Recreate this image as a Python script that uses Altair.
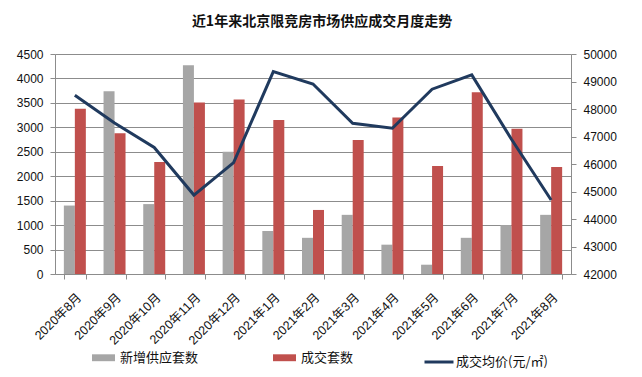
import altair as alt
import pandas as pd

months = ["2020年8月", "2020年9月", "2020年10月", "2020年11月", "2020年12月",
          "2021年1月", "2021年2月", "2021年3月", "2021年4月", "2021年5月",
          "2021年6月", "2021年7月", "2021年8月"]
supply = [1400, 3740, 1430, 4270, 2500, 880, 740, 1210, 600, 190, 740, 1000, 1210]
deals = [3380, 2880, 2290, 3510, 3570, 3150, 1310, 2740, 3200, 2210, 3720, 2970, 2190]
price = [48500, 47490, 46600, 44870, 46050, 49360, 48910, 47480, 47300, 48720, 49240, 46900, 44690]

s1, s2, s3 = "新增供应套数", "成交套数", "成交均价(元/㎡)"
bar_colors = ["#A6A6A6", "#C0504D"]
line_color = "#203A5E"

bar_df = pd.DataFrame(
    [{"month": m, "series": s1, "value": v} for m, v in zip(months, supply)]
    + [{"month": m, "series": s2, "value": v} for m, v in zip(months, deals)]
)
line_df = pd.DataFrame({"month": months, "series": s3, "price": price})

FONT = "Liberation Sans, Noto Sans CJK SC"
CJK = "Noto Sans CJK SC"
GRID = "#8C8C8C"

x_enc = alt.X(
    "month:N", sort=months, title=None,
    scale=alt.Scale(paddingInner=0.446, paddingOuter=0.223),
    axis=alt.Axis(labelAngle=-45, labelAlign="right", labelBaseline="middle",
                  labelFontSize=12.5, labelFont=FONT, labelColor="#111",
                  labelPadding=16, labelOffset=4, tickBand="extent", tickSize=5,
                  tickColor=GRID, domainColor=GRID, grid=False),
)

bars = alt.Chart(bar_df).mark_bar().encode(
    x=x_enc,
    xOffset=alt.XOffset("series:N", sort=[s1, s2],
                        scale=alt.Scale(paddingInner=0, paddingOuter=0)),
    y=alt.Y("value:Q", title=None,
            scale=alt.Scale(domain=[0, 4500], nice=False),
            axis=alt.Axis(values=list(range(0, 4501, 500)), grid=True, gridColor=GRID,
                          gridOpacity=1, tickSize=5, tickColor=GRID, domainColor=GRID,
                          labelFontSize=12, labelFont=FONT, labelColor="#111",
                          labelPadding=7, format="d")),
    color=alt.Color(
        "series:N",
        scale=alt.Scale(domain=[s1, s2], range=bar_colors),
        legend=alt.Legend(
            title=None, orient="none", legendX=37, legendY=292, direction="horizontal",
            padding=0, columnPadding=74, labelFontSize=13, labelFont=CJK,
            labelColor="#111", labelOffset=5, symbolSize=529, symbolStrokeWidth=0,
            symbolOpacity=1, symbolType="M-1,-0.3H1V0.3H-1Z"),
    ),
)

line = alt.Chart(line_df).mark_line(strokeWidth=3).encode(
    x=alt.X("month:N", sort=months),
    y=alt.Y("price:Q", title=None,
            scale=alt.Scale(domain=[42000, 50000], nice=False, zero=False),
            axis=alt.Axis(orient="right", values=list(range(42000, 50001, 1000)),
                          grid=False, tickSize=5, tickColor=GRID, domainColor=GRID,
                          labelFontSize=12, labelFont=FONT, labelColor="#111",
                          labelPadding=7, format="d")),
    stroke=alt.Stroke(
        "series:N",
        scale=alt.Scale(domain=[s3], range=[line_color]),
        legend=alt.Legend(
            title=None, orient="none", legendX=368, legendY=292, direction="horizontal",
            padding=0, labelFontSize=13, labelFont=CJK, labelColor="#111",
            labelOffset=1, symbolSize=841, symbolStrokeWidth=3, symbolOpacity=1,
            symbolType="M-1,0H1"),
    ),
)

chart = alt.layer(bars, line).resolve_scale(y="independent").properties(
    width=516, height=220,
    autosize=alt.AutoSizeParams(type="none"),
    padding={"left": 55, "top": 54, "right": 71, "bottom": 103},
    title=alt.TitleParams("近1年来北京限竞房市场供应成交月度走势", fontSize=14,
                          fontWeight="bold", font=CJK, color="#111",
                          anchor="middle", dx=9, offset=19),
).configure_view(stroke=None).configure(background="white")

chart.save("out.html", embed_options={"renderer": "svg", "actions": False})
